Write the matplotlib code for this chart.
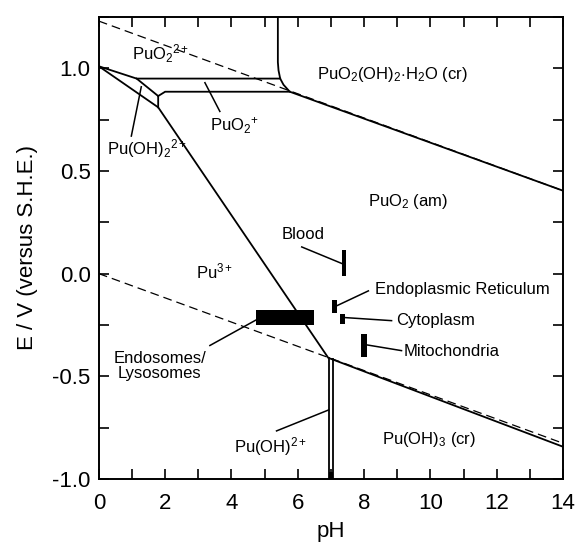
import matplotlib
matplotlib.use("Agg")
import matplotlib.pyplot as plt
import numpy as np

plt.rcParams['font.family'] = ['Liberation Sans', 'DejaVu Sans']
plt.rcParams['mathtext.fontset'] = 'custom'
plt.rcParams['mathtext.rm'] = 'Liberation Sans'
plt.rcParams['mathtext.it'] = 'Liberation Sans'

# water stability limits (dashed)
water_ph = [0, 14]
o2_line = [1.23, 0.404]
h2_line = [0.0, -0.826]

# phase boundaries (pH, E)
b_left_upper = ([0, 1.14, 5.47], [1.01, 0.95, 0.95])
b_left_lower = ([0, 1.79, 6.92, 14], [1.01, 0.81, -0.41, -0.843])
b_wedge = ([1.14, 1.79, 1.79], [0.95, 0.865, 0.81])
b_puo2p = ([1.79, 2.0, 5.76], [0.865, 0.886, 0.886])
b_curve = ([5.40, 5.40, 5.42, 5.47, 5.57, 5.76, 14],
           [1.25, 1.03, 0.99, 0.95, 0.92, 0.886, 0.404])
b_oh2p_a = ([6.93, 6.93], [-0.41, -1.0])
b_oh2p_b = ([7.05, 7.05], [-0.418, -1.0])

# cellular compartments: pH range and E range
comp_names = ['Endosomes/Lysosomes', 'Blood', 'Endoplasmic Reticulum',
              'Cytoplasm', 'Mitochondria']
comp_ph_lo = [4.75, 7.32, 7.03, 7.28, 7.92]
comp_ph_hi = [6.50, 7.47, 7.17, 7.42, 8.08]
comp_e_lo = [-0.25, -0.01, -0.19, -0.245, -0.405]
comp_e_hi = [-0.175, 0.115, -0.13, -0.195, -0.295]

fig = plt.figure(figsize=(5.78, 5.48), dpi=100)
ax = fig.add_axes([0.171, 0.126, 0.803, 0.843])

ax.plot(water_ph, o2_line, color='black', lw=0.9, ls=(0, (7, 4)))
ax.plot(water_ph, h2_line, color='black', lw=0.9, ls=(0, (7, 4)))

for ph, e in [b_left_upper, b_left_lower, b_wedge, b_puo2p, b_curve,
              b_oh2p_a, b_oh2p_b]:
    ax.plot(ph, e, color='black', lw=1.3, solid_joinstyle='miter')

# small filled foot of the Pu(OH)2+ strip
ax.bar(7.0, 0.035, width=0.13, bottom=-1.0, color='black')

for lo, hi, el, eh in zip(comp_ph_lo, comp_ph_hi, comp_e_lo, comp_e_hi):
    ax.bar((lo + hi) / 2, eh - el, width=hi - lo, bottom=el, color='black')

fs = 12
ax.text(1.85, 1.07, r'PuO$_2$$^{2+}$', fontsize=fs, ha='center', va='center')
ax.text(1.45, 0.61, r'Pu(OH)$_2$$^{2+}$', fontsize=fs, ha='center', va='center')
ax.plot([0.98, 1.28], [0.67, 0.91], color='black', lw=1.1)
ax.text(4.1, 0.72, r'PuO$_2$$^{+}$', fontsize=fs, ha='center', va='center')
ax.plot([3.65, 3.2], [0.79, 0.93], color='black', lw=1.1)
ax.text(6.57, 0.97, r'PuO$_2$(OH)$_2$$\cdot$H$_2$O (cr)', fontsize=fs,
        ha='left', va='center')
ax.text(9.33, 0.35, r'PuO$_2$ (am)', fontsize=fs, ha='center', va='center')
ax.text(3.5, 0.01, r'Pu$^{3+}$', fontsize=fs, ha='center', va='center')
ax.text(9.96, -0.81, r'Pu(OH)$_3$ (cr)', fontsize=fs, ha='center', va='center')
ax.text(5.19, -0.84, r'Pu(OH)$^{2+}$', fontsize=fs, ha='center', va='center')
ax.plot([5.36, 6.93], [-0.766, -0.664], color='black', lw=1.1)

ax.text(1.84, -0.45, 'Endosomes/\nLysosomes', fontsize=fs, ha='center',
        va='center', linespacing=1.0)
ax.plot([3.35, 4.75], [-0.35, -0.225], color='black', lw=1.1)
ax.text(6.17, 0.19, 'Blood', fontsize=fs, ha='center', va='center')
ax.plot([6.12, 7.32], [0.13, 0.05], color='black', lw=1.1)
ax.text(8.33, -0.079, 'Endoplasmic Reticulum', fontsize=fs, ha='left',
        va='center')
ax.plot([7.17, 8.13], [-0.157, -0.084], color='black', lw=1.1)
ax.text(8.96, -0.226, 'Cytoplasm', fontsize=fs, ha='left', va='center')
ax.plot([7.42, 8.83], [-0.214, -0.229], color='black', lw=1.1)
ax.text(9.2, -0.38, 'Mitochondria', fontsize=fs, ha='left', va='center')
ax.plot([8.08, 9.13], [-0.347, -0.375], color='black', lw=1.1)

ax.set_xlim(0, 14)
ax.set_ylim(-1.0, 1.25)
ax.set_xticks(np.arange(0, 15, 2))
ax.set_xticks(np.arange(0, 15, 1), minor=True)
ax.set_yticks([-1.0, -0.5, 0.0, 0.5, 1.0])
ax.set_yticks(np.arange(-1.0, 1.26, 0.25), minor=True)
ax.set_yticklabels(['-1.0', '-0.5', '0.0', '0.5', '1.0'])
ax.tick_params(which='both', direction='in', top=True, right=True,
               length=7, width=1.2, labelsize=16)
ax.tick_params(axis='x', pad=10)
ax.tick_params(axis='y', pad=6)
for s in ax.spines.values():
    s.set_linewidth(1.4)
ax.set_xlabel('pH', fontsize=16, labelpad=5)
ax.set_ylabel('E / V (versus S.H.E.)', fontsize=16, labelpad=10)

fig.savefig('out.png', dpi=100)
